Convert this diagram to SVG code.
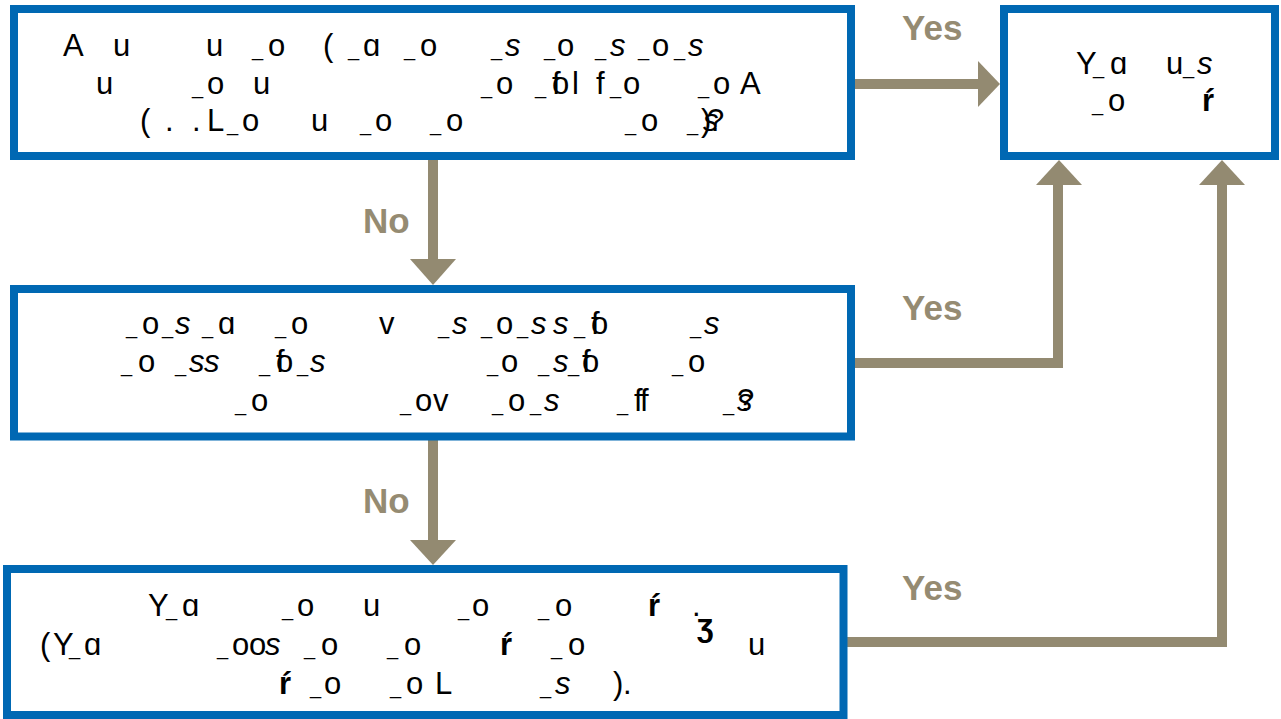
<svg xmlns="http://www.w3.org/2000/svg" width="1281" height="719" viewBox="0 0 1281 719">
<style>
.box{fill:#fff;stroke:#0068b3;stroke-width:8}
.t{font-family:"Liberation Sans Narrow","Liberation Sans",Arial,sans-serif;font-size:31px;fill:#000}
.u{font-size:20px;font-family:"Liberation Sans",Arial,sans-serif}
.i{font-style:italic}
.b{font-weight:bold}
.lbl{font-family:"Liberation Sans",Arial,sans-serif;font-weight:bold;font-size:35px;fill:#958b72}
.ln{fill:none;stroke:#938a71;stroke-width:10}
.hd{fill:#938a71}
</style>
<rect width="1281" height="719" fill="#fff"/>
<g id="connectors">
<line class="ln" x1="855" y1="84" x2="980" y2="84"/>
<polygon class="hd" points="978,61 1000,84 978,107"/>
<line class="ln" x1="433" y1="160" x2="433" y2="261"/>
<polygon class="hd" points="410,259 456,259 433,285"/>
<polyline class="ln" points="855,363 1058,363 1058,183"/>
<polygon class="hd" points="1036,185 1082,185 1059,160"/>
<line class="ln" x1="433" y1="440" x2="433" y2="542"/>
<polygon class="hd" points="410,540 456,540 433,565"/>
<polyline class="ln" points="847,642 1222,642 1222,183"/>
<polygon class="hd" points="1199,185 1245,185 1222,160"/>
<text class="lbl" x="902" y="40">Yes</text>
<text class="lbl" x="902" y="320">Yes</text>
<text class="lbl" x="902" y="600">Yes</text>
<text class="lbl" x="363" y="233">No</text>
<text class="lbl" x="363" y="513">No</text>
</g>
<g id="node1">
<rect class="box" x="14" y="9" width="837" height="147"/>
<text class="t" y="56"><tspan x="63">A</tspan><tspan x="113">u</tspan><tspan x="206">u</tspan><tspan class="u" x="252">_</tspan><tspan x="268">o</tspan><tspan x="323">(</tspan><tspan class="u" x="348">_</tspan><tspan x="363">ɑ</tspan><tspan class="u" x="404">_</tspan><tspan x="420">o</tspan><tspan class="u" x="491">_</tspan><tspan class="i" x="505">s</tspan><tspan class="u" x="544">_</tspan><tspan x="557">o</tspan><tspan class="u" x="595">_</tspan><tspan class="i" x="610">s</tspan><tspan class="u" x="638">_</tspan><tspan x="652">o</tspan><tspan class="u" x="674">_</tspan><tspan class="i" x="688">s</tspan></text>
<text class="t" y="94"><tspan x="96">u</tspan><tspan class="u" x="192">_</tspan><tspan x="207">o</tspan><tspan x="253">u</tspan><tspan class="u" x="481">_</tspan><tspan x="496">o</tspan><tspan class="u" x="535">_</tspan><tspan x="552">f</tspan><tspan x="552">o</tspan><tspan x="572">l</tspan><tspan x="596">f</tspan><tspan class="u" x="610">_</tspan><tspan x="623">o</tspan><tspan class="u" x="698">_</tspan><tspan x="713">o</tspan><tspan x="740">A</tspan></text>
<text class="t" y="131"><tspan x="140">(</tspan><tspan x="165">.</tspan><tspan x="192">.</tspan><tspan x="207">L</tspan><tspan class="u" x="227">_</tspan><tspan x="242">o</tspan><tspan x="311">u</tspan><tspan class="u" x="360">_</tspan><tspan x="375">o</tspan><tspan class="u" x="430">_</tspan><tspan x="446">o</tspan><tspan class="u" x="625">_</tspan><tspan x="641">o</tspan><tspan class="u" x="687">_</tspan><tspan x="701">)</tspan><tspan class="i" x="703">s</tspan><tspan x="707">?</tspan></text>
</g>
<g id="node2">
<rect class="box" x="1004" y="9" width="271" height="147"/>
<text class="t" y="74"><tspan x="1076">Y</tspan><tspan class="u" x="1093">_</tspan><tspan x="1110">ɑ</tspan><tspan x="1166">u</tspan><tspan class="u" x="1183">_</tspan><tspan class="i" x="1197">s</tspan></text>
<text class="t" y="111"><tspan class="u" x="1092">_</tspan><tspan x="1108">o</tspan><tspan class="b" x="1202">ŕ</tspan></text>
</g>
<g id="node3">
<rect class="box" x="14" y="289" width="837" height="147.5"/>
<text class="t" y="334"><tspan class="u" x="126">_</tspan><tspan x="142">o</tspan><tspan class="u" x="162">_</tspan><tspan class="i" x="175">s</tspan><tspan class="u" x="202">_</tspan><tspan x="218">ɑ</tspan><tspan class="u" x="275">_</tspan><tspan x="291">o</tspan><tspan x="379">v</tspan><tspan class="u" x="438">_</tspan><tspan class="i" x="452">s</tspan><tspan class="u" x="481">_</tspan><tspan x="496">o</tspan><tspan class="u" x="517">_</tspan><tspan class="i" x="531">s</tspan><tspan class="i" x="553">s</tspan><tspan class="u" x="574">_</tspan><tspan x="591">o</tspan><tspan x="591">f</tspan><tspan class="u" x="690">_</tspan><tspan class="i" x="704">s</tspan></text>
<text class="t" y="372"><tspan class="u" x="121">_</tspan><tspan x="138">o</tspan><tspan class="u" x="175">_</tspan><tspan class="i" x="189">s</tspan><tspan class="i" x="204">s</tspan><tspan class="u" x="259">_</tspan><tspan x="276">f</tspan><tspan x="276">o</tspan><tspan class="u" x="297">_</tspan><tspan class="i" x="310">s</tspan><tspan class="u" x="487">_</tspan><tspan x="501">o</tspan><tspan class="u" x="538">_</tspan><tspan class="i" x="553">s</tspan><tspan class="u" x="568">_</tspan><tspan x="582">f</tspan><tspan x="582">o</tspan><tspan class="u" x="672">_</tspan><tspan x="688">o</tspan></text>
<text class="t" y="411"><tspan class="u" x="235">_</tspan><tspan x="251">o</tspan><tspan class="u" x="400">_</tspan><tspan x="415">o</tspan><tspan x="433">v</tspan><tspan class="u" x="492">_</tspan><tspan x="508">o</tspan><tspan class="u" x="530">_</tspan><tspan class="i" x="544">s</tspan><tspan class="u" x="617">_</tspan><tspan x="634">f</tspan><tspan x="640">f</tspan><tspan class="u" x="723">_</tspan><tspan class="i" x="737">s</tspan><tspan x="737">?</tspan></text>
</g>
<g id="node4">
<rect class="box" x="7" y="569" width="836.5" height="146"/>
<text class="t" y="616"><tspan x="148">Y</tspan><tspan class="u" x="166">_</tspan><tspan x="182">ɑ</tspan><tspan class="u" x="282">_</tspan><tspan x="297">o</tspan><tspan x="363">u</tspan><tspan class="u" x="458">_</tspan><tspan x="472">o</tspan><tspan class="u" x="538">_</tspan><tspan x="555">o</tspan><tspan class="b" x="648">ŕ</tspan><tspan x="692">.</tspan></text>
<text class="t b" x="697" y="636">ʒ</text>
<text class="t" y="655"><tspan x="40">(</tspan><tspan x="53">Y</tspan><tspan class="u" x="69">_</tspan><tspan x="84">ɑ</tspan><tspan class="u" x="217">_</tspan><tspan x="232">o</tspan><tspan x="249">o</tspan><tspan class="i" x="265">s</tspan><tspan class="u" x="304">_</tspan><tspan x="321">o</tspan><tspan class="u" x="387">_</tspan><tspan x="404">o</tspan><tspan class="b" x="500">ŕ</tspan><tspan class="u" x="551">_</tspan><tspan x="568">o</tspan><tspan x="748">u</tspan></text>
<text class="t" y="694"><tspan class="b" x="279">ŕ</tspan><tspan class="u" x="310">_</tspan><tspan x="324">o</tspan><tspan class="u" x="390">_</tspan><tspan x="406">o</tspan><tspan x="435">L</tspan><tspan class="u" x="540">_</tspan><tspan class="i" x="555">s</tspan><tspan x="613">)</tspan><tspan x="623">.</tspan></text>
</g>
</svg>
